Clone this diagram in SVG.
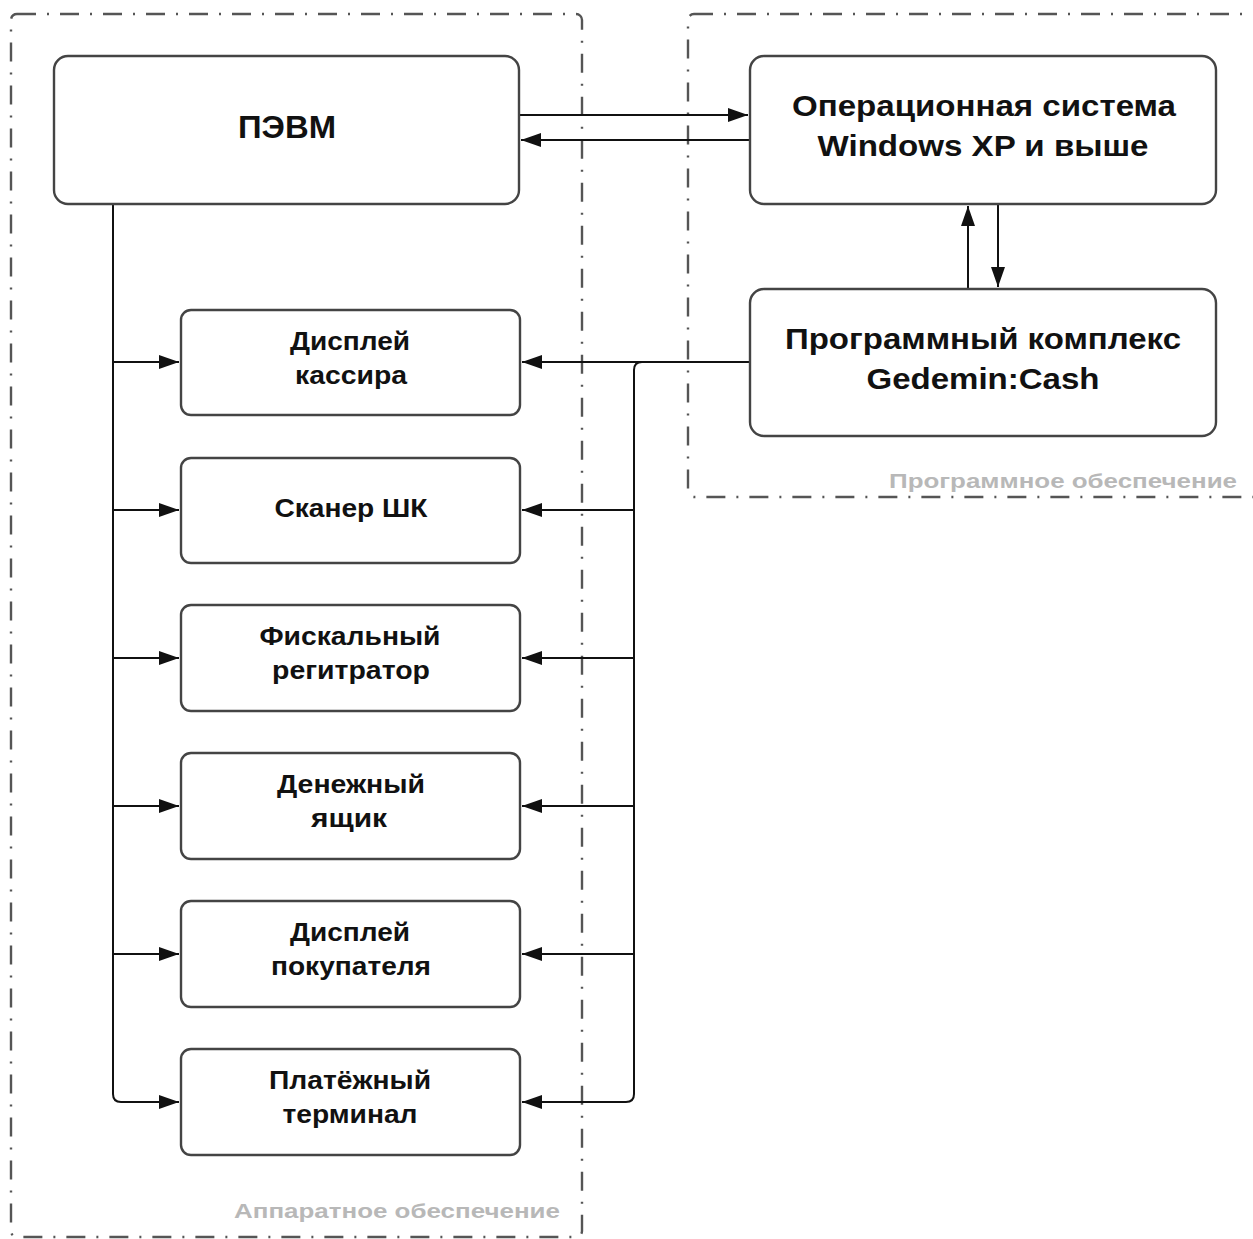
<svg xmlns="http://www.w3.org/2000/svg" width="1253" height="1239" viewBox="0 0 1253 1239">
<defs>
<style>
.grp{fill:none;stroke:#555;stroke-width:2.4;stroke-dasharray:19 11 2 11}
.node{fill:#fff;stroke:#444;stroke-width:2.4}
.t{font-family:"Liberation Sans",Arial,sans-serif;font-weight:bold;fill:#111;text-anchor:middle}
.big{font-size:31px}
.med{font-size:30px}
.sm{font-size:25px}
.lbl{font-family:"Liberation Sans",Arial,sans-serif;font-weight:bold;fill:#b8b8b8;font-size:21px;text-anchor:end}
.c{fill:none;stroke:#111;stroke-width:2}
</style>
<marker id="ah" viewBox="0 0 20 14" refX="20" refY="7" markerWidth="20" markerHeight="14" markerUnits="userSpaceOnUse" orient="auto">
<path d="M0,0 L20,7 L0,14 Z" fill="#111"/>
</marker>
</defs>
<rect width="1253" height="1239" fill="#fff"/>
<g id="hardware">
<rect class="grp" x="11" y="14" width="571" height="1223" rx="6"/>
<text class="lbl" x="560" y="1218" textLength="326" lengthAdjust="spacingAndGlyphs">Аппаратное обеспечение</text>
</g>
<g id="software">
<rect class="grp" x="688" y="14" width="600" height="483" rx="6"/>
<text class="lbl" x="1237" y="488" textLength="348" lengthAdjust="spacingAndGlyphs">Программное обеспечение</text>
</g>
<g id="connectors">
<path class="c" d="M519,115 H748" marker-end="url(#ah)"/>
<path class="c" d="M750,140 H521" marker-end="url(#ah)"/>
<path class="c" d="M968,289 V206" marker-end="url(#ah)"/>
<path class="c" d="M998,204 V287" marker-end="url(#ah)"/>
<path class="c" d="M113,204 V1094 Q113,1102 121,1102 H179" marker-end="url(#ah)"/>
<path class="c" d="M113,362 H179" marker-end="url(#ah)"/>
<path class="c" d="M113,510 H179" marker-end="url(#ah)"/>
<path class="c" d="M113,658 H179" marker-end="url(#ah)"/>
<path class="c" d="M113,806 H179" marker-end="url(#ah)"/>
<path class="c" d="M113,954 H179" marker-end="url(#ah)"/>
<path class="c" d="M750,362 H522" marker-end="url(#ah)"/>
<path class="c" d="M642,362 Q634,362 634,370 V1094 Q634,1102 626,1102 H522" marker-end="url(#ah)"/>
<path class="c" d="M634,510 H522" marker-end="url(#ah)"/>
<path class="c" d="M634,658 H522" marker-end="url(#ah)"/>
<path class="c" d="M634,806 H522" marker-end="url(#ah)"/>
<path class="c" d="M634,954 H522" marker-end="url(#ah)"/>
</g>
<g id="pevm">
<rect class="node" x="54" y="56" width="465" height="148" rx="14"/>
<text class="t big" x="287" y="138" textLength="98" lengthAdjust="spacingAndGlyphs">ПЭВМ</text>
</g>
<g id="os">
<rect class="node" x="750" y="56" width="466" height="148" rx="14"/>
<text class="t med" x="984" y="116" textLength="384" lengthAdjust="spacingAndGlyphs">Операционная система</text>
<text class="t med" x="983" y="156" textLength="331" lengthAdjust="spacingAndGlyphs">Windows XP и выше</text>
</g>
<g id="gedemin">
<rect class="node" x="750" y="289" width="466" height="147" rx="14"/>
<text class="t med" x="983" y="349" textLength="396" lengthAdjust="spacingAndGlyphs">Программный комплекс</text>
<text class="t med" x="983" y="389" textLength="233" lengthAdjust="spacingAndGlyphs">Gedemin:Cash</text>
</g>
<g id="cashier-display">
<rect class="node" x="181" y="310" width="339" height="105" rx="10"/>
<text class="t sm" x="350" y="350" textLength="120" lengthAdjust="spacingAndGlyphs">Дисплей</text>
<text class="t sm" x="351" y="384" textLength="112" lengthAdjust="spacingAndGlyphs">кассира</text>
</g>
<g id="scanner">
<rect class="node" x="181" y="458" width="339" height="105" rx="10"/>
<text class="t sm" x="351" y="517" textLength="153" lengthAdjust="spacingAndGlyphs">Сканер ШК</text>
</g>
<g id="fiscal">
<rect class="node" x="181" y="605" width="339" height="106" rx="10"/>
<text class="t sm" x="350" y="645" textLength="181" lengthAdjust="spacingAndGlyphs">Фискальный</text>
<text class="t sm" x="351" y="679" textLength="158" lengthAdjust="spacingAndGlyphs">регитратор</text>
</g>
<g id="cash-drawer">
<rect class="node" x="181" y="753" width="339" height="106" rx="10"/>
<text class="t sm" x="351" y="793" textLength="148" lengthAdjust="spacingAndGlyphs">Денежный</text>
<text class="t sm" x="349" y="827" textLength="76" lengthAdjust="spacingAndGlyphs">ящик</text>
</g>
<g id="customer-display">
<rect class="node" x="181" y="901" width="339" height="106" rx="10"/>
<text class="t sm" x="350" y="941" textLength="120" lengthAdjust="spacingAndGlyphs">Дисплей</text>
<text class="t sm" x="351" y="975" textLength="160" lengthAdjust="spacingAndGlyphs">покупателя</text>
</g>
<g id="payment-terminal">
<rect class="node" x="181" y="1049" width="339" height="106" rx="10"/>
<text class="t sm" x="350" y="1089" textLength="162" lengthAdjust="spacingAndGlyphs">Платёжный</text>
<text class="t sm" x="350" y="1123" textLength="135" lengthAdjust="spacingAndGlyphs">терминал</text>
</g>
</svg>
